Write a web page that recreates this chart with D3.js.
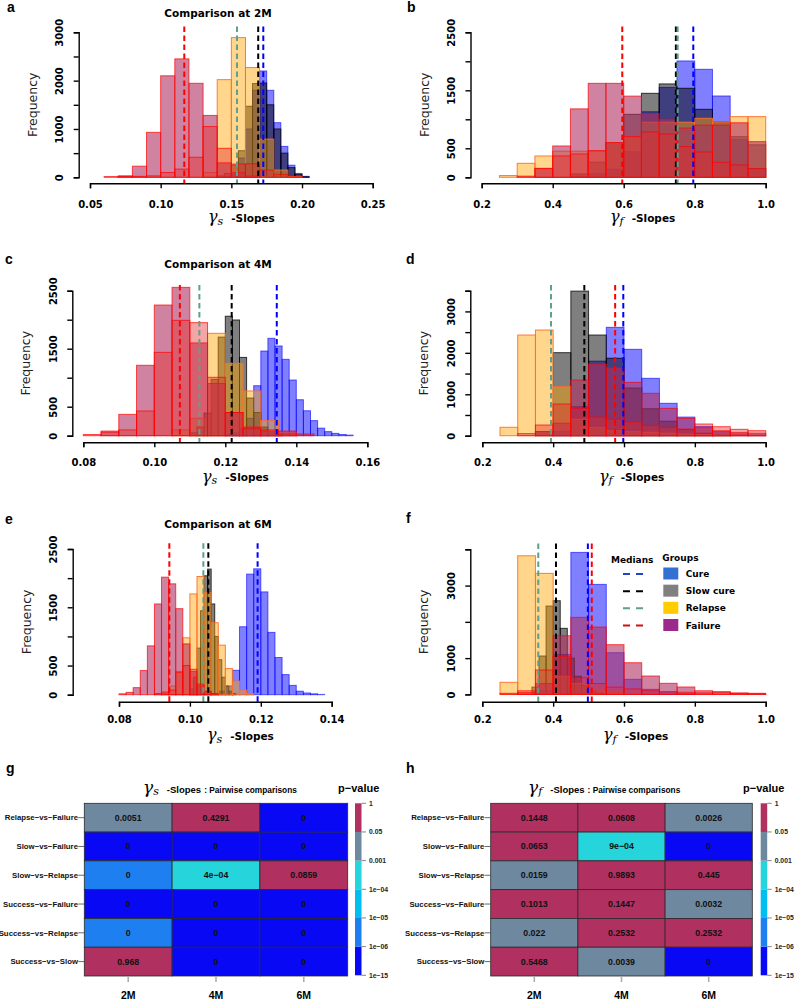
<!DOCTYPE html>
<html><head><meta charset="utf-8">
<script src="https://cdn.jsdelivr.net/npm/d3@7/dist/d3.min.js"></script>
<style>body{margin:0;background:#fff}svg{display:block}</style>
</head><body><svg id="c" width="800" height="1000"></svg>
<script>
// ---------------- DATA ----------------
// histogram bins: x0 = first bin start, w = bin width, n = counts
// Panel a: gamma_s, 2M
const aCure    = {x0:0.145, w:0.005, n:[20,60,400,1000,1800,2200,1800,1130,640,250,80,20]};
const aSlow    = {x0:0.14,  w:0.005, n:[30,80,250,550,1470,1940,1950,1500,1000,500,200,60,10]};
const aRelapse = {x0:0.13,  w:0.01,  n:[100,2020,2890,2270,790,150,15]};
const aFailure = {x0:0.06,  w:0.01,  n:[15,30,230,930,2100,2450,1945,1280,300,100,30]};
const aOther   = {x0:0.07,  w:0.01,  n:[20,20,30,100,170,415,1050,600,275,280,150,60,10]};
const aMed     = [0.1726, 0.169, 0.154, 0.1167]; // cure, slow, relapse, failure
// Panel b: gamma_f, 2M
const bCure    = {x0:0.45, w:0.05, n:[20,60,140,440,1130,1550,2006,1862,1402,650,150]};
const bSlow    = {x0:0.45, w:0.05, n:[60,260,600,1086,1448,1610,1535,1172,950,700,560]};
const bRelapse = {x0:0.25, w:0.05, n:[30,241,368,450,450,450,600,700,950,950,950,1017,950,1046,1046]};
const bFailure = {x0:0.35, w:0.05, n:[150,540,1180,1620,1620,1400,1100,1000,850,900,900,940,615]};
const bOther   = {x0:0.30, w:0.05, n:[20,155,368,402,460,598,701,782,747,529,437,259,213,150]};
const bMed     = [0.796, 0.747, 0.752, 0.596];
// Panel c: gamma_s, 4M
const cCure    = {x0:0.120, w:0.002, n:[20,50,120,300,862,1460,1679,1547,1317,960,620,430,260,130,70,40,20,10]};
const cSlow    = {x0:0.110, w:0.002, n:[50,150,390,970,1700,2060,1995,1350,650,400,150,50,20]};
const cRelapse = {x0:0.105, w:0.005, n:[100,300,1765,1248,771,259,50]};
const cFailure = {x0:0.085, w:0.005, n:[80,368,1214,2253,2558,1600,900,400,150,80,80,30]};
const cOther   = {x0:0.080, w:0.005, n:[20,60,100,426,1437,1989,1949,1007,397,120,100,30]};
const cMed     = [0.1345, 0.1218, 0.1127, 0.1072];
// Panel d: gamma_f, 4M
const dCure    = {x0:0.40, w:0.05, n:[100,700,1800,2616,2085,1385,782,450,220,100,40,15]};
const dSlow    = {x0:0.35, w:0.05, n:[100,2004,3490,2430,1870,1150,650,350,150,60,20]};
const dRelapse = {x0:0.25, w:0.05, n:[203,2430,2551,1183,400,200,120,100,80,60,40,30,20,20,10]};
const dFailure = {x0:0.35, w:0.05, n:[100,300,1344,1730,1642,1288,1023,660,419,200,120,80,60]};
const dOther   = {x0:0.30, w:0.05, n:[50,258,765,660,450,400,330,250,200,160,282,217,154,121]};
const dMed     = [0.598, 0.488, 0.394, 0.575];
// Panel e: gamma_s, 6M
const eCure    = {x0:0.106, w:0.002, n:[20,60,150,419,1166,2069,2160,1764,1069,638,345,160,60,30,15,5]};
const eSlow    = {x0:0.100, w:0.001, n:[100,300,800,1441,2040,2155,1557,1000,600,300,150,60,20]};
const eRelapse = {x0:0.092, w:0.002, n:[50,150,400,976,1729,2028,1752,1235,850,448,234,80,20]};
const eFailure = {x0:0.080, w:0.002, n:[15,40,121,414,838,1557,2017,1902,1476,872,400,150,50]};
const eOther   = {x0:0.090, w:0.002, n:[20,30,80,384,500,436,183,60,20]};
const eMed     = [0.1191, 0.1052, 0.1038, 0.0942];
// Panel f: gamma_f, 6M
const fCure    = {x0:0.35, w:0.05, n:[100,1100,3915,3033,1150,416,140,50,20]};
const fSlow    = {x0:0.34, w:0.02, n:[200,1058,2435,2582,1821,1000,500,250,100,40]};
const fRelapse = {x0:0.25, w:0.05, n:[333,3821,3336,500,300,100,50,20]};
const fFailure = {x0:0.30, w:0.05, n:[50,300,1617,2124,1857,1370,873,507,306,204,100,60,40,20]};
const fOther   = {x0:0.25, w:0.05, n:[30,100,672,1050,460,300,200,150,100,80,60,40,75,30,30]};
const fMed     = [0.498, 0.408, 0.358, 0.509];

// axis ticks
const xTicksA = [0.05,0.10,0.15,0.20,0.25];
const xTicksF = [0.2,0.4,0.6,0.8,1.0];
const xTicksC = [0.08,0.10,0.12,0.14,0.16];
const xTicksE = [0.08,0.10,0.12,0.14];
const yTicksA = [0,500,1000,1500,2000,2500,3000];   const yLabA = [0,1000,2000,3000];
const yTicksB = [0,500,1000,1500,2000,2500];        const yLabB = [0,500,1500,2500];
const yTicksD = [0,500,1000,1500,2000,2500,3000,3500]; const yLabD = [0,1000,2000,3000];
const yTicksF = [0,1000,2000,3000,4000];            const yLabF = [0,1000,3000];

// legend
const legendGroups = ["Cure","Slow cure","Relapse","Failure"];

// heatmaps
const pairRows = ["Relapse−vs−Failure","Slow−vs−Failure","Slow−vs−Relapse","Success−vs−Failure","Success−vs−Relapse","Success−vs−Slow"];
const months = ["2M","4M","6M"];
const pGs = [[0.0051,0.4291,1e-10],[1e-10,1e-10,1e-10],[3e-6,4e-4,0.0859],[1e-10,1e-10,1e-10],[3e-6,1e-10,1e-10],[0.968,1e-10,1e-10]];
const pGf = [[0.1448,0.0608,0.0026],[0.0653,9e-4,1e-10],[0.0159,0.9893,0.445],[0.1013,0.1447,0.0032],[0.022,0.2532,0.2532],[0.5468,0.0039,1e-10]];
const pBreaks = [1e-6,1e-5,1e-4,0.001,0.05];
const pBreakLabels = ["1e−15","1e−06","1e−05","1e−04","0.001","0.05","1"];

// ---------------- STYLE ----------------
const SANS = "'DejaVu Sans', Verdana, sans-serif";
const ARIAL = "'Liberation Sans', Arial, sans-serif";
const SERIF = "'DejaVu Serif', serif";
const FILL = ['rgba(0,0,255,0.5)','rgba(0,0,0,0.5)','rgba(255,165,0,0.45)','rgba(176,48,96,0.6)','rgba(230,40,40,0.42)'];
const STROKE = ['rgba(0,0,255,0.6)','rgba(0,0,0,0.75)','rgba(255,110,40,0.9)','rgba(255,0,0,0.7)','rgba(255,0,0,0.7)'];
const MEDCOL = ['#0000ff','#000000','#5f9f8c','#ff0000'];
const LEGCOL = ['#3470d2','#808080','#ffcc00','#9b2a8c'];
const LEGDASH = ['#2244cc','#000000','#5f9f8c','#d01010'];
const HEATCOL = ['#0808f5','#1e80f0','#00bff0','#26d4dc','#6e88a0','#b03060'];

const svg = d3.select('#c');

const layout = [
 {L:'a',lx:7,ly:11.5,title:'Comparison at 2M',ty:17,dom:[0.05,0.25],xr:[90,372.7],y0:177.3,yTop:32.3,ymax:3000,axX:78.7,axY:183.3,tlY:208.3,labX:208,labY:222,fmt:'.2f',sub:'s',xt:xTicksA,yt:yTicksA,yl:yLabA,data:[aCure,aSlow,aRelapse,aFailure,aOther],med:aMed},
 {L:'b',lx:407,ly:11.5,dom:[0.2,1.0],xr:[481.7,765.7],y0:177.3,yTop:32.3,ymax:2500,axX:470.5,axY:183.3,tlY:208.3,labX:610,labY:222,fmt:'.1f',sub:'f',xt:xTicksF,yt:yTicksB,yl:yLabB,data:[bCure,bSlow,bRelapse,bFailure,bOther],med:bMed},
 {L:'c',lx:5,ly:263.5,title:'Comparison at 4M',ty:268,dom:[0.08,0.16],xr:[83.3,367.3],y0:435.7,yTop:290.7,ymax:2500,axX:72.3,axY:442.3,tlY:466.3,labX:202,labY:481.5,fmt:'.2f',sub:'s',xt:xTicksC,yt:yTicksB,yl:yLabB,data:[cCure,cSlow,cRelapse,cFailure,cOther],med:cMed},
 {L:'d',lx:406,ly:263.5,dom:[0.2,1.0],xr:[482.3,765.7],y0:435.7,yTop:290.7,ymax:3500,axX:470.3,axY:442.3,tlY:466.3,labX:599,labY:481.5,fmt:'.1f',sub:'f',xt:xTicksF,yt:yTicksD,yl:yLabD,data:[dCure,dSlow,dRelapse,dFailure,dOther],med:dMed},
 {L:'e',lx:5,ly:523.5,title:'Comparison at 6M',ty:528,dom:[0.08,0.14],xr:[119,331.7],y0:694.7,yTop:549,ymax:2500,axX:72.7,axY:701.7,tlY:723.5,labX:207,labY:740,fmt:'.2f',sub:'s',xt:xTicksE,yt:yTicksB,yl:yLabB,data:[eCure,eSlow,eRelapse,eFailure,eOther],med:eMed},
 {L:'f',lx:406,ly:522.5,dom:[0.2,1.0],xr:[482.3,765.7],y0:694.4,yTop:549.3,ymax:4000,axX:470.3,axY:701.7,tlY:723.5,labX:603,labY:740,fmt:'.1f',sub:'f',xt:xTicksF,yt:yTicksF,yl:yLabF,data:[fCure,fSlow,fRelapse,fFailure,fOther],med:fMed}
];

function gammaLabel(g, x, y, sub, big, small){
  const t = g.append('text').attr('x',x).attr('y',y).attr('fill','#000');
  t.append('tspan').attr('font-family',SERIF).attr('font-style','italic').attr('font-size',big).text('γ');
  t.append('tspan').attr('font-family',SERIF).attr('font-style','italic').attr('font-size',small).attr('dy',big*0.16).text(sub);
  return t;
}

layout.forEach(p=>{
  const g = svg.append('g');
  const x = d3.scaleLinear().domain(p.dom).range(p.xr);
  const y = d3.scaleLinear().domain([0,p.ymax]).range([p.y0,p.yTop]);
  // bars
  p.data.forEach((s,si)=>{
    const bins = s.n.map((v,i)=>({a:s.x0+i*s.w, b:s.x0+(i+1)*s.w, v}));
    g.append('g').selectAll('rect').data(bins).join('rect')
      .attr('x',d=>x(d.a)).attr('width',d=>x(d.b)-x(d.a))
      .attr('y',d=>y(d.v)).attr('height',d=>y(0)-y(d.v))
      .attr('fill',FILL[si]).attr('stroke',STROKE[si]).attr('stroke-width',1);
  });
  // medians
  const pad = 0.04*(p.y0-p.yTop);
  [3,1,2,0].forEach(i=>{
    g.append('line').attr('x1',x(p.med[i])).attr('x2',x(p.med[i]))
      .attr('y1',y(p.ymax)-pad).attr('y2',p.axY)
      .attr('stroke',MEDCOL[i]).attr('stroke-width',2).attr('stroke-dasharray','5.5,3.5');
  });
  // x axis
  const fx = d3.format(p.fmt);
  const xa = g.append('g').attr('transform',`translate(0,${p.axY})`)
    .call(d3.axisBottom(x).tickValues(p.xt).tickFormat(fx).tickSizeOuter(0).tickSize(5));
  xa.select('.domain').attr('stroke','#000').attr('stroke-width',1.4);
  xa.selectAll('.tick line').attr('stroke','#000').attr('stroke-width',1.4);
  xa.selectAll('.tick text').attr('y',p.tlY-p.axY).attr('dy',0)
    .attr('font-family',SANS).attr('font-weight','bold').attr('font-size',10).attr('fill','#000');
  // y axis
  const ya = g.append('g').attr('transform',`translate(${p.axX},0)`)
    .call(d3.axisLeft(y).tickValues(p.yt).tickFormat(d=>p.yl.includes(d)?String(d):'').tickSizeOuter(0).tickSize(5));
  ya.select('.domain').attr('stroke','#000').attr('stroke-width',1.4);
  ya.selectAll('.tick line').attr('stroke','#000').attr('stroke-width',1.4);
  ya.selectAll('.tick text').attr('x',0).attr('y',-15.5).attr('dy',0).attr('text-anchor','middle')
    .attr('transform','rotate(-90)')
    .attr('font-family',SANS).attr('font-weight','bold').attr('font-size',10).attr('fill','#000');
  // y label
  g.append('text').attr('transform',`translate(${p.axX-42},${(p.y0+p.yTop)/2}) rotate(-90)`)
    .attr('text-anchor','middle').attr('font-family',SANS).attr('font-size',12.5).attr('fill','#222').text('Frequency');
  // x label
  const t = gammaLabel(g, p.labX, p.labY, p.sub, 16, 11);
  t.append('tspan').attr('dy',-2.6).attr('dx',8).attr('font-family',SANS).attr('font-weight','bold').attr('font-size',10.5).text('-Slopes');
  // letter & title
  g.append('text').attr('x',p.lx).attr('y',p.ly).attr('font-family',ARIAL).attr('font-weight','bold').attr('font-size',14).text(p.L);
  if(p.title) g.append('text').attr('x',218).attr('y',p.ty).attr('text-anchor','middle')
    .attr('font-family',SANS).attr('font-weight','bold').attr('font-size',10.5).text(p.title);
});

// legend (panel f)
{
  const lg = svg.append('g');
  lg.append('text').attr('x',611).attr('y',563.3).attr('font-family',SANS).attr('font-weight','bold').attr('font-size',9).text('Medians');
  lg.append('text').attr('x',662.3).attr('y',560.7).attr('font-family',SANS).attr('font-weight','bold').attr('font-size',9).text('Groups');
  const rowY = d3.scaleLinear().domain([0,3]).range([573.5,625]);
  legendGroups.forEach((name,i)=>{
    const cy = rowY(i);
    lg.append('line').attr('x1',623).attr('x2',644).attr('y1',cy+0.5).attr('y2',cy+0.5)
      .attr('stroke',LEGDASH[i]).attr('stroke-width',2).attr('stroke-dasharray','7,6');
    lg.append('rect').attr('x',663.3).attr('y',cy-6).attr('width',15).attr('height',12).attr('fill',LEGCOL[i]);
    lg.append('text').attr('x',685.7).attr('y',cy+3.5).attr('font-family',SANS).attr('font-weight','bold').attr('font-size',9).text(name);
  });
}

// heatmaps
const fmtP = p => { const r = Math.round(p*1e4)/1e4; if(r===0) return '0';
  if(r<0.001){ const e = Math.floor(Math.log10(r)); const m = Math.round(r/Math.pow(10,e)); return m+'e−'+String(-e).padStart(2,'0'); }
  return String(r); };
const colorP = d3.scaleThreshold().domain(pBreaks).range(HEATCOL);

function drawHeat(cfg){
  const g = svg.append('g');
  const x = d3.scaleBand().domain(months).range(cfg.xr);
  const y = d3.scaleBand().domain(pairRows).range([803.3,976]);
  const cells = [];
  cfg.p.forEach((row,ri)=>row.forEach((v,ci)=>cells.push({r:pairRows[ri],c:months[ci],v})));
  g.selectAll('rect.cell').data(cells).join('rect').attr('class','cell')
    .attr('x',d=>x(d.c)).attr('y',d=>y(d.r)).attr('width',x.bandwidth()).attr('height',y.bandwidth())
    .attr('fill',d=>colorP(d.v)).attr('stroke','#2a2a2a').attr('stroke-width',0.8);
  g.selectAll('text.val').data(cells).join('text').attr('class','val')
    .attr('x',d=>x(d.c)+x.bandwidth()/2).attr('y',d=>y(d.r)+y.bandwidth()/2+3)
    .attr('text-anchor','middle').attr('font-family',ARIAL).attr('font-weight','bold').attr('font-size',8.8).attr('fill','#111')
    .text(d=>fmtP(d.v));
  // row labels + ticks
  pairRows.forEach(r=>{
    const cy = y(r)+y.bandwidth()/2;
    g.append('line').attr('x1',cfg.xr[0]-6).attr('x2',cfg.xr[0]).attr('y1',cy).attr('y2',cy).attr('stroke','#444').attr('stroke-width',0.8);
    g.append('text').attr('x',cfg.xr[0]-6.3).attr('y',cy+2.7).attr('text-anchor','end')
      .attr('font-family',ARIAL).attr('font-weight','bold').attr('font-size',7.8).attr('fill','#111').text(r);
  });
  // column labels + ticks
  months.forEach(m=>{
    const cx = x(m)+x.bandwidth()/2;
    g.append('line').attr('x1',cx).attr('x2',cx).attr('y1',976).attr('y2',982).attr('stroke','#aaa').attr('stroke-width',1.5);
    g.append('text').attr('x',cx).attr('y',998.5).attr('text-anchor','middle')
      .attr('font-family',ARIAL).attr('font-weight','bold').attr('font-size',10.5).text(m);
  });
  // colorbar
  const cb = d3.scaleLinear().domain([0,6]).range([975.3,803.3]);
  HEATCOL.forEach((c,i)=>{
    g.append('rect').attr('x',cfg.cbx).attr('y',cb(i+1)).attr('width',6.5).attr('height',cb(i)-cb(i+1)).attr('fill',c);
  });
  pBreakLabels.forEach((lab,i)=>{
    g.append('line').attr('x1',cfg.cbx+6.5).attr('x2',cfg.cbx+11).attr('y1',cb(i)).attr('y2',cb(i)).attr('stroke','#666').attr('stroke-width',0.8);
    g.append('text').attr('x',cfg.cbx+14).attr('y',cb(i)+2.5).attr('font-family',ARIAL).attr('font-weight','bold').attr('font-size',6.8).attr('fill','#222').text(lab);
  });
  // title
  const t = gammaLabel(g, cfg.tx, 792.5, cfg.sub, 17, 11);
  t.append('tspan').attr('dy',-2.7).attr('dx',8).attr('font-family',ARIAL).attr('font-weight','bold').attr('font-size',9.5).text('-Slopes');
  t.append('tspan').attr('dx',3).attr('font-family',ARIAL).attr('font-weight','bold').attr('font-size',8.3).text(': Pairwise comparisons');
  g.append('text').attr('x',cfg.pvx).attr('y',791.5).attr('font-family',ARIAL).attr('font-weight','bold').attr('font-size',11).text('p−value');
  g.append('text').attr('x',cfg.lx).attr('y',773).attr('font-family',ARIAL).attr('font-weight','bold').attr('font-size',14).text(cfg.L);
}
drawHeat({L:'g',lx:6,xr:[84.3,347.7],p:pGs,cbx:355,tx:143,pvx:338,sub:'s'});
drawHeat({L:'h',lx:406,xr:[490.7,752.3],p:pGf,cbx:760.7,tx:528,pvx:743,sub:'f'});
</script></body></html>
